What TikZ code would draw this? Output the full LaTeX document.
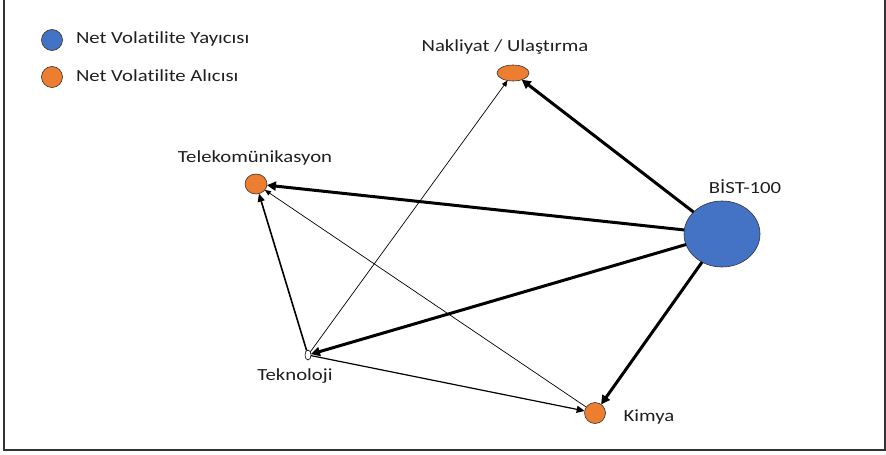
\documentclass[tikz,border=0pt]{standalone}
\usepackage{fontspec}
\setmainfont{Carlito}
\newfontfamily\labfont[FakeStretch=1.22,Ligatures=NoCommon]{Carlito}
\usetikzlibrary{shapes.geometric,arrows.meta}
\definecolor{oran}{HTML}{ED7D31}
\definecolor{blu}{HTML}{4472C4}
\definecolor{txt}{HTML}{1F1F1F}
\begin{document}
\begin{tikzpicture}[x=1pt,y=-1pt,
  every node/.style={inner sep=0pt,outer sep=0pt},
  lab/.style={font=\labfont\fontsize{17}{20}\selectfont,text=txt},
  recv/.style={ellipse,draw=black!80,line width=0.6pt,fill=oran},
  emit/.style={ellipse,draw=black!80,line width=0.6pt,fill=blu},
  heavy/.style={line width=3pt,-{Triangle[length=9pt,width=9pt]}},
  mid/.style={line width=1.6pt,-{Triangle[length=8pt,width=7pt]}},
  light/.style={line width=0.7pt,-{Triangle[length=6pt,width=5pt]}}]
\useasboundingbox (0,0) rectangle (886,455);
\draw[line width=2pt,black!80] (3.5,-2) -- (3.5,450) -- (885,450) -- (885,-2);
% legend
\node[emit,minimum width=21pt,minimum height=21pt] (lg1) at (52,40) {};
\node[recv,minimum width=21pt,minimum height=21pt] (lg2) at (52,77) {};
\node[lab,anchor=west] (lt1) at (76,39) {Net Volatilite Yayıcısı};
\node[lab,anchor=west] (lt2) at (76,76) {Net Volatilite Alıcısı};
% nodes
\node[recv,minimum width=32pt,minimum height=16pt] (nak) at (513,73) {};
\node[recv,minimum width=22pt,minimum height=20pt] (tel) at (256,184) {};
\node[ellipse,draw=black,fill=white,line width=0.6pt,minimum width=6pt,minimum height=10pt] (tek) at (308,355) {};
\node[recv,minimum width=21pt,minimum height=21pt] (kim) at (595,413) {};
\node[emit,minimum width=76pt,minimum height=66pt] (bist) at (722,234) {};
% labels
\node[lab] (nakl) at (505,47) {Nakliyat / Ulaştırma};
\node[lab] (tell) at (255,158) {Telekomünikasyon};
\node[lab] (tekl) at (295,376) {Teknoloji};
\node[lab] (kiml) at (649,417) {Kimya};
\node[lab] (bistl) at (745,187) {BİST-100};
% edges
\draw[heavy] (bist) -- (nak);
\draw[heavy] (bist) -- (tel);
\draw[heavy] (bist) -- (tek);
\draw[heavy] (bist) -- (kim);
\draw[mid] (tek) -- (tel);
\draw[mid,line width=1.2pt] (tek) -- (kim);
\draw[light] (tek) -- (nak);
\draw[light] (kim) -- (tel);
\end{tikzpicture}
\end{document}
